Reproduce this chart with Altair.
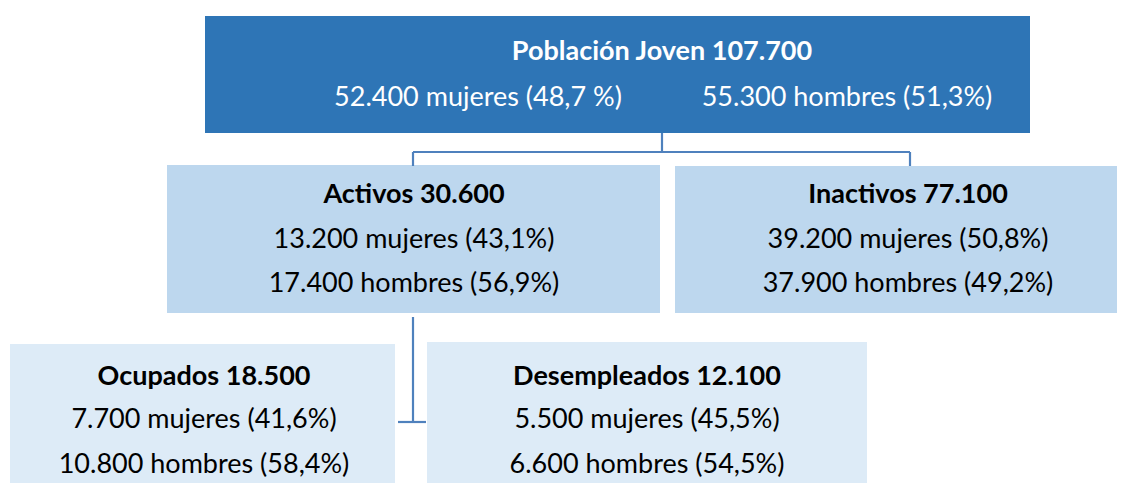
import altair as alt
import pandas as pd

# ---- data ----
nodes = ["Población Joven", "Activos", "Inactivos", "Ocupados", "Desempleados"]
totals = [107700, 30600, 77100, 18500, 12100]
mujeres = [52400, 13200, 39200, 7700, 5500]
hombres = [55300, 17400, 37900, 10800, 6600]
pct_mujeres = [48.7, 43.1, 50.8, 41.6, 45.5]
pct_hombres = [51.3, 56.9, 49.2, 58.4, 54.5]

# ---- layout (pixel positions of the diagram) ----
box_x1 = [205, 167, 675, 10, 427]
box_x2 = [1030, 660, 1117, 395, 867]
box_y1 = [16, 165, 166, 344, 342]
box_y2 = [133, 313, 313, 491, 491]
box_fill = ["#2E75B6", "#BDD7EE", "#BDD7EE", "#DDEBF7", "#DDEBF7"]
text_color = ["white", "black", "black", "black", "black"]
center_x = [662, 414, 908, 204, 647]
title_y = [52, 195, 195, 377, 377]
line2_y = [98, 240, 240, 420, 420]
line3_y = [98, 284, 284, 465, 465]

def num(v):
    return f"{v:,}".replace(",", ".")

def pct(p):
    return f"{p:.1f}".replace(".", ",")

rects = pd.DataFrame({"x": box_x1, "x2": box_x2, "y": box_y1, "y2": box_y2, "fill": box_fill})

texts = []
for i, n in enumerate(nodes):
    texts.append({"x": center_x[i], "y": title_y[i], "t": f"{n} {num(totals[i])}",
                  "w": "bold", "c": text_color[i]})
    if i == 0:
        texts.append({"x": 478, "y": line2_y[i], "t": f"{num(mujeres[i])} mujeres ({pct(pct_mujeres[i])} %)",
                      "w": "normal", "c": text_color[i]})
        texts.append({"x": 847, "y": line3_y[i], "t": f"{num(hombres[i])} hombres ({pct(pct_hombres[i])}%)",
                      "w": "normal", "c": text_color[i]})
    else:
        texts.append({"x": center_x[i], "y": line2_y[i], "t": f"{num(mujeres[i])} mujeres ({pct(pct_mujeres[i])}%)",
                      "w": "normal", "c": text_color[i]})
        texts.append({"x": center_x[i], "y": line3_y[i], "t": f"{num(hombres[i])} hombres ({pct(pct_hombres[i])}%)",
                      "w": "normal", "c": text_color[i]})
tdf = pd.DataFrame(texts)

# connectors
lines = pd.DataFrame({
    "x":  [662, 413, 413, 910, 413, 398],
    "x2": [662, 910, 413, 910, 413, 426],
    "y":  [133, 152, 152, 152, 317, 422],
    "y2": [152, 152, 166, 166, 422, 422],
})

xs = alt.Scale(domain=[8, 1122], range=[0, 1114], nice=False, zero=False)
ys = alt.Scale(domain=[8, 483], range=[0, 475], nice=False, zero=False)

base_x = dict(scale=xs, axis=None)
base_y = dict(scale=ys, axis=None)

boxes = alt.Chart(rects).mark_rect(clip=True).encode(
    x=alt.X("x:Q", **base_x), x2="x2", y=alt.Y("y:Q", **base_y), y2="y2",
    color=alt.Color("fill:N", scale=None),
)

conn = alt.Chart(lines).mark_rule(color="#4F81BD", strokeWidth=2.2).encode(
    x=alt.X("x:Q", **base_x), x2="x2", y=alt.Y("y:Q", **base_y), y2="y2",
)

bold = alt.Chart(tdf[tdf.w == "bold"]).mark_text(
    font="Lato", fontSize=27, fontWeight="bold", baseline="middle", align="center"
).encode(
    x=alt.X("x:Q", **base_x), y=alt.Y("y:Q", **base_y), text="t:N",
    color=alt.Color("c:N", scale=None),
)

normal = alt.Chart(tdf[tdf.w == "normal"]).mark_text(
    font="Lato", fontSize=27, baseline="middle", align="center", clip=True
).encode(
    x=alt.X("x:Q", **base_x), y=alt.Y("y:Q", **base_y), text="t:N",
    color=alt.Color("c:N", scale=None),
)

chart = alt.layer(boxes, conn, bold, normal).properties(
    width=1114, height=475, padding=0, autosize=alt.AutoSizeParams(type="none"),
    background="white",
).configure_view(strokeWidth=0)

chart.save("out.html", embed_options={"renderer": "svg", "actions": False})
